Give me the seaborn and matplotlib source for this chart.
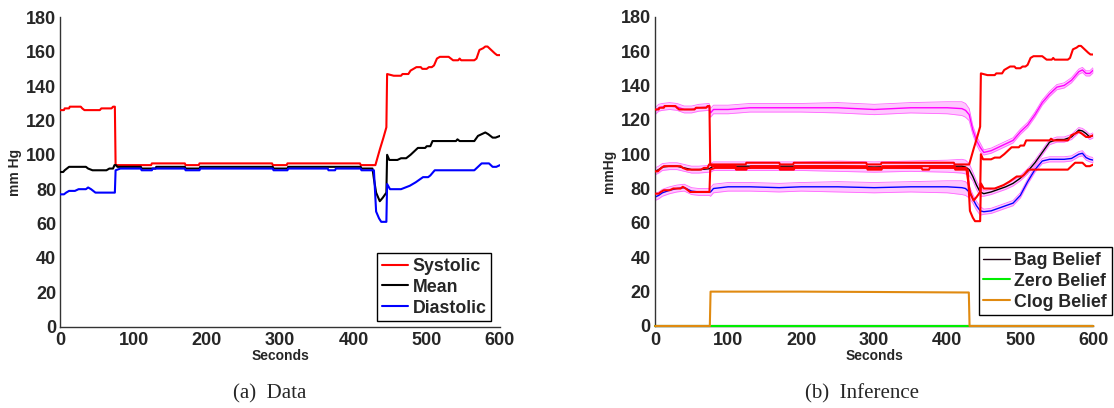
import numpy as np
import pandas as pd
import matplotlib
matplotlib.use("Agg")
import matplotlib.pyplot as plt
import seaborn as sns
from matplotlib.lines import Line2D

# ---------------- Measured data (seconds, mm Hg) ----------------
sys_t = [0, 5, 6, 12, 13, 28, 30, 33, 54, 56, 70, 72, 74.5, 75.5, 124, 125, 170, 171, 189, 190,
         289, 290, 309, 310, 409, 410, 430, 436, 441, 445, 446, 455, 465, 467, 475, 478, 482, 486,
         492, 494, 500, 503, 507, 510, 514, 518, 530, 533, 536, 543, 545, 547, 565, 568, 572, 577,
         580, 583, 588, 593, 596, 600]
sys_v = [126, 126, 127, 127, 128, 128, 127, 126, 126, 127, 127, 128, 128, 94, 94, 95, 95, 94, 94, 95,
         95, 94, 94, 95, 95, 94, 94, 103, 110, 116, 147, 146, 146, 147, 147, 149, 150, 151,
         151, 150, 150, 151, 151, 152, 156, 157, 157, 156, 155, 155, 156, 155, 155, 156, 161, 162,
         163, 163, 161, 159, 158, 158]

mean_t = [0, 4, 6, 9, 12, 35, 38, 44, 63, 67, 72, 74, 76, 78, 110, 111, 130, 131, 170, 171, 190, 191,
          290, 291, 310, 311, 410, 411, 426, 428, 431, 436, 440, 445, 446, 449, 460, 465, 472, 478,
          483, 488, 498, 500, 505, 508, 540, 542, 545, 565, 570, 575, 580, 584, 590, 594, 600]
mean_v = [90, 90, 91, 92, 93, 93, 92, 91, 91, 92, 92, 94, 94, 93, 93, 92, 92, 93, 93, 92, 92, 93,
          93, 92, 92, 93, 93, 92, 92, 86, 78, 73, 75, 78, 100, 97, 97, 98, 98, 100,
          102, 104, 104, 105, 105, 108, 108, 109, 108, 108, 111, 112, 113, 112, 110, 110, 111]

dia_t = [0, 5, 8, 12, 20, 25, 35, 38, 42, 48, 74.5, 75.5, 82, 110, 111, 125, 126, 170, 171, 190, 191,
         290, 291, 310, 311, 365, 366, 375, 376, 410, 411, 428, 431, 435, 438, 445, 446, 450, 465,
         477, 485, 495, 502, 505, 511, 565, 570, 575, 585, 590, 595, 600]
dia_v = [77, 77, 78, 79, 79, 80, 80, 81, 80, 78, 78, 91, 92, 92, 91, 91, 92, 92, 91, 91, 92,
         92, 91, 91, 92, 92, 91, 91, 92, 92, 91, 91, 67, 63, 61, 61, 83, 80, 80,
         82, 84, 87, 87, 88, 91, 91, 93, 95, 95, 93, 93, 94]

# ---------------- Inferred values (right panel) ----------------
inf_t = [0, 5, 10, 20, 30, 40, 50, 60, 74, 76, 80, 100, 130, 170, 200, 250, 300, 350, 400, 420, 425,
         430, 435, 440, 445, 450, 460, 470, 480, 490, 500, 510, 520, 530, 540, 550, 560, 570, 580,
         585, 590, 595, 600]
sys_inf = [125, 127, 127.5, 128, 127.5, 126, 126, 127, 127.5, 124, 126, 126, 127, 127, 127, 127, 126,
           127, 127, 126.5, 125.5, 123, 114, 108, 104, 101, 102, 104, 106, 108, 113, 117, 123, 130,
           135, 139, 140, 143, 148, 149, 147, 147, 149]
mean_inf = [90, 91, 92.5, 93, 93, 92, 91, 91, 91.5, 92, 93, 93, 93, 93, 93, 93, 92.5, 93, 93, 93, 92.5,
            91, 87, 82, 78, 77, 78, 79.5, 81, 83, 86, 90, 95, 101, 107, 108.5, 108.5, 110, 114,
            113.5, 112, 110, 111]
dia_inf = [75, 76, 77.5, 79, 80, 80.5, 78.5, 78, 78, 78, 80, 81, 81, 80.5, 81, 81, 80.5, 81, 81, 80.5,
           80, 78, 74, 70, 67, 66.5, 67, 68.5, 70, 71.5, 76, 84, 91, 96, 97, 97, 97, 97.5, 100,
           100.5, 98, 97, 96.5]
band_hw = [2, 2, 2, 2, 2, 2, 2, 2, 2, 2.5, 2.5, 2.5, 2.5, 2.5, 2.5, 3, 3, 3, 3.5, 4, 4,
           3.5, 2.5, 2.5, 2.5, 1.5, 1.5, 1.5, 1.5, 1.5, 1.5, 1.5, 1.5, 1.5, 1.5, 1.5, 1.5, 1.5, 1.5,
           1.5, 1.5, 1.5, 1.5]

# ---------------- Fault beliefs (scaled) ----------------
belief_t = [0, 75, 76, 200, 300, 425, 429.5, 430.5, 600]
bag_belief = [0, 0, 0, 0, 0, 0, 0, 0, 0]
zero_belief = [0, 0, 0, 0, 0, 0, 0, 0, 0]
clog_belief = [0, 0, 20, 20, 19.8, 19.5, 19.5, 0, 0]

data_labels = ["Systolic", "Mean", "Diastolic"]
belief_labels = ["Bag Belief", "Zero Belief", "Clog Belief"]
x_ticks = [0, 100, 200, 300, 400, 500, 600]
y_ticks = [0, 20, 40, 60, 80, 100, 120, 140, 160, 180]

sns.set_style("white")
plt.rcParams["font.family"] = ["Liberation Sans", "DejaVu Sans"]
plt.rcParams["font.weight"] = "bold"

fig = plt.figure(figsize=(11.14, 4.08), dpi=100)
axL = fig.add_axes([0.0541, 0.1993, 0.3947, 0.7583])
axR = fig.add_axes([0.5880, 0.2010, 0.3935, 0.7581])


def line(ax, x, y, color, lw, z=2, clip=True):
    sns.lineplot(x=x, y=y, ax=ax, color=color, lw=lw, estimator=None, sort=False,
                 legend=False, zorder=z)
    ln = ax.lines[-1]
    ln.set_clip_on(clip)
    return ln


# ---- Left: data ----
line(axL, sys_t, sys_v, "#ff0000", 1.5, z=3)
line(axL, mean_t, mean_v, "#000000", 1.5, z=3)
line(axL, dia_t, dia_v, "#0000ff", 1.5, z=3)
hL = [Line2D([], [], color=c, lw=1.5) for c in ["#ff0000", "#000000", "#0000ff"]]

# ---- Right: inference ----
t = np.array(inf_t)
hw = np.array(band_hw)
for series in [sys_inf, mean_inf, dia_inf]:
    s = np.array(series)
    axR.fill_between(t, s - hw, s + hw, color="#ff00ff", alpha=0.22, lw=0, zorder=1)
    line(axR, t, s - hw, "#ff66ff", 0.6, z=1.5)
    line(axR, t, s + hw, "#ff66ff", 0.6, z=1.5)
line(axR, t, np.array(sys_inf), "#ff00ff", 1.0, z=2)
line(axR, t, np.array(mean_inf), "#000000", 1.0, z=2)
line(axR, t, np.array(dia_inf), "#0000ff", 1.0, z=2)
line(axR, sys_t, sys_v, "#ff0000", 1.5, z=3)
line(axR, mean_t, mean_v, "#ff0000", 1.5, z=3)
line(axR, dia_t, dia_v, "#ff0000", 1.5, z=3)
line(axR, belief_t, bag_belief, "#000000", 1.5, z=4, clip=False)
line(axR, belief_t, zero_belief, "#00ee00", 1.5, z=4, clip=False)
line(axR, belief_t, clog_belief, "#e08a10", 1.5, z=4, clip=False)
hR = [Line2D([], [], color="#1a0010", lw=1.0), Line2D([], [], color="#00ee00", lw=1.5),
      Line2D([], [], color="#e08a10", lw=1.5)]

for ax, ylab in [(axL, "mm Hg"), (axR, "mmHg")]:
    ax.set_xlim(0, 600)
    ax.set_ylim(0, 180)
    ax.set_xticks(x_ticks)
    ax.set_yticks(y_ticks)
    ax.tick_params(direction="in", length=3.5, width=0.8, color="#333333",
                   labelsize=13, pad=3)
    ax.tick_params(axis="x", pad=4)
    for lab in ax.get_xticklabels() + ax.get_yticklabels():
        lab.set_fontweight("bold")
    for s in ["top", "right"]:
        ax.spines[s].set_visible(False)
    for s in ["left", "bottom"]:
        ax.spines[s].set_color("#333333")
        ax.spines[s].set_linewidth(1.0)
    ax.set_xlabel("Seconds", fontsize=10, fontweight="bold", labelpad=0)
    ax.set_ylabel(ylab, fontsize=10, fontweight="bold", labelpad=3)
    ax.patch.set_alpha(0)

legkw = dict(loc="lower right", fontsize=12.8, frameon=True, fancybox=False, framealpha=1,
             edgecolor="black", handlelength=1.5, handletextpad=0.25, labelspacing=0.22,
             borderpad=0.25, borderaxespad=0, bbox_transform=fig.transFigure)
lgL = axL.legend(hL, data_labels, bbox_to_anchor=(491 / 1114, 87 / 408), **legkw)
lgR = axR.legend(hR, belief_labels, bbox_to_anchor=(1111.5 / 1114, 93 / 408), **legkw)
for lg in (lgL, lgR):
    lg.get_frame().set_linewidth(1.0)
    lg.set_zorder(10)
    for txt in lg.get_texts():
        txt.set_fontweight("bold")

fig.text(270 / 1114, 1 - 394 / 408, "(a)  Data", ha="center", va="center",
         family=["Liberation Serif", "DejaVu Serif"], fontsize=15, fontweight="normal")
fig.text(862 / 1114, 1 - 394 / 408, "(b)  Inference", ha="center", va="center",
         family=["Liberation Serif", "DejaVu Serif"], fontsize=15, fontweight="normal")

fig.savefig("out.png", dpi=100, facecolor="white")
